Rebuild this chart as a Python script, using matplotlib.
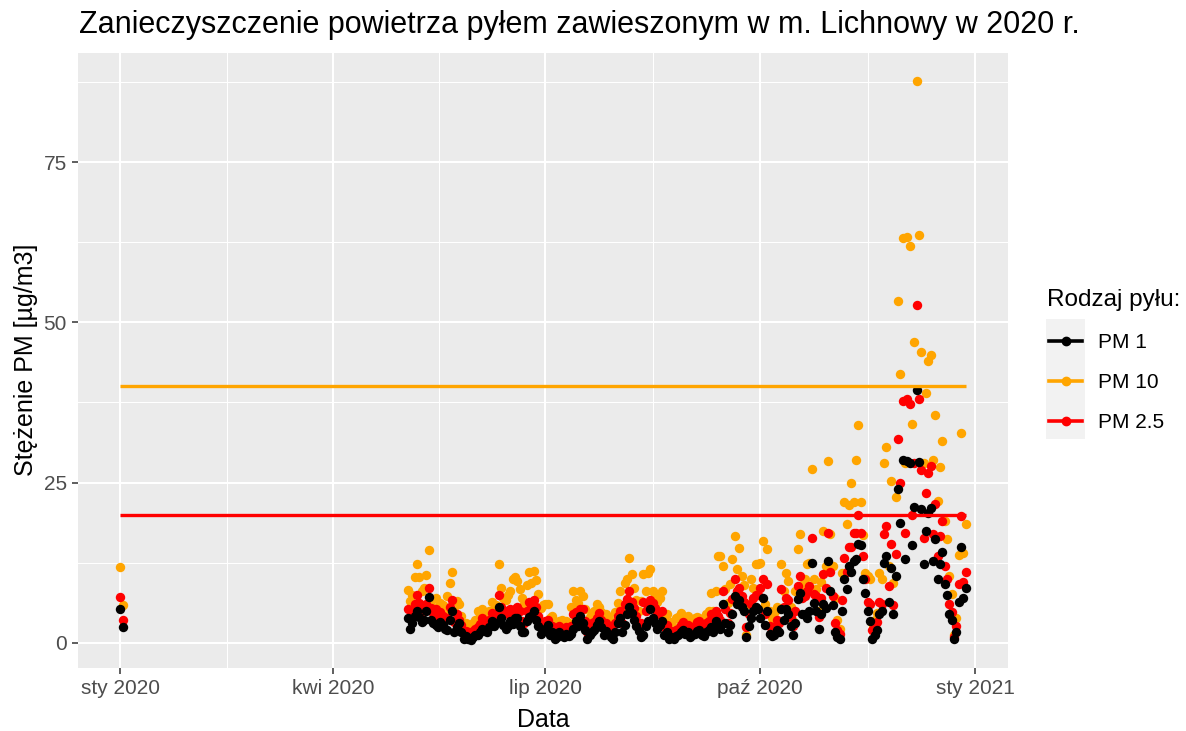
import matplotlib
matplotlib.use("Agg")
import numpy as np
import pandas as pd
from matplotlib import pyplot as plt
import matplotlib.dates as mdates
from matplotlib.patches import Rectangle
from matplotlib.lines import Line2D

plt.rcParams['font.family'] = ['Liberation Sans', 'DejaVu Sans']

# --- dane ---------------------------------------------------------------
jan_dates = ['2020-01-01', '2020-01-02']
jan_pm1 = [5.2, 2.4]
jan_pm25 = [7.1, 3.6]
jan_pm10 = [11.8, 5.8]

main_start = '2020-05-03'
pm1 = [
    3.8, 2.2, 3.0, 4.2, 4.9, 4.0, 3.2, 3.6, 4.9, 7.1,
    3.6, 3.0, 2.8, 2.4, 3.2, 2.8, 2.2, 2.0, 3.6, 4.9,
    1.7, 2.5, 3.0, 1.7, 0.6, 1.0, 0.5, 0.4, 0.9, 1.2,
    1.2, 1.6, 2.2, 1.8, 1.7, 2.4, 3.3, 2.6, 3.0, 5.5,
    3.8, 2.8, 2.2, 2.6, 3.3, 2.9, 3.8, 3.8, 2.6, 1.7,
    1.7, 3.3, 4.0, 4.2, 4.9, 3.6, 2.6, 1.4, 1.8, 2.2,
    2.8, 1.2, 1.6, 0.5, 0.8, 1.7, 1.2, 0.9, 1.4, 1.0,
    1.4, 2.2, 3.3, 2.6, 4.1, 3.0, 2.0, 0.6, 1.2, 1.6,
    2.0, 2.8, 3.3, 2.4, 1.2, 1.8, 1.4, 0.9, 0.6, 1.6,
    3.0, 3.8, 1.7, 2.8, 4.5, 5.6, 4.6, 3.6, 2.6, 1.8,
    0.9, 1.2, 2.6, 3.4, 5.2, 3.8, 3.0, 2.2, 2.8, 3.3,
    1.2, 1.7, 0.6, 0.9, 0.5, 1.0, 1.2, 1.6, 2.0, 1.4,
    1.6, 0.9, 1.2, 1.4, 1.8, 2.0, 1.2, 1.0, 1.7, 1.9,
    2.4, 1.7, 3.3, 2.6, 2.2, 6.1, 3.0, 1.7, 2.8, 4.4,
    7.2, 6.1, 6.7, 5.6, 4.9, 0.9, 2.6, 3.8, 5.0, 5.6,
    5.3, 3.8, 6.9, 2.8, 5.0, 1.4, 1.0, 1.2, 2.0, 1.6,
    5.3, 3.6, 5.2, 4.5, 2.6, 1.2, 3.0, 6.8, 7.7, 4.4,
    4.4, 3.8, 5.0, 12.4, 6.2, 5.0, 2.2, 4.4, 6.0, 5.4,
    12.7, 8.0, 5.8, 1.7, 0.9, 0.5, 4.9, 10.0, 8.3, 12.0,
    11.1, 12.7, 13.0, 15.4, 15.2, 9.9, 7.7, 4.9, 3.3, 0.6,
    1.2, 2.0, 4.4, 4.9, 12.4, 13.5, 6.4, 11.6, 4.4, 10.4,
    24.0, 18.7, 28.5, 13.1, 28.4, 28.0, 15.2, 21.2, 39.5, 28.2,
    20.8, 12.3, 17.5, 20.3, 21.0, 12.7, 16.2, 9.9, 12.3, 14.1,
    9.1, 7.5, 4.5, 3.6, 0.5, 1.7, 6.4, 15.0, 6.9, 8.5,
]
pm25 = [
    5.2, 4.0, 5.0, 6.0, 7.5, 6.2, 5.0, 5.4, 6.1, 8.5,
    5.4, 4.6, 5.3, 4.0, 4.8, 4.2, 3.6, 3.8, 5.6, 6.7,
    3.2, 4.4, 3.6, 2.8, 1.5, 1.8, 1.7, 1.2, 1.8, 2.2,
    2.4, 2.9, 3.8, 3.0, 2.8, 3.5, 4.6, 4.0, 4.4, 7.5,
    5.6, 4.6, 4.9, 4.4, 5.3, 5.0, 5.3, 5.6, 4.9, 3.4,
    3.0, 5.0, 6.4, 5.8, 6.7, 5.5, 4.2, 2.8, 3.0, 3.4,
    3.6, 2.4, 2.6, 1.4, 1.8, 2.6, 2.2, 1.7, 2.4, 2.0,
    2.6, 4.4, 4.8, 4.0, 5.2, 5.2, 3.4, 1.6, 2.4, 3.0,
    3.2, 3.8, 4.6, 3.6, 2.4, 3.0, 2.6, 2.0, 1.6, 3.0,
    4.2, 4.9, 3.0, 6.1, 6.8, 8.0, 6.4, 5.4, 4.2, 3.0,
    3.0, 6.4, 5.0, 5.6, 6.6, 6.2, 5.4, 4.4, 4.8, 4.9,
    2.4, 2.8, 1.5, 1.8, 1.2, 2.0, 2.2, 2.8, 3.2, 2.4,
    2.8, 2.0, 2.4, 2.6, 3.2, 3.4, 2.4, 2.2, 3.0, 3.4,
    4.4, 3.0, 5.0, 4.2, 3.6, 8.0, 5.2, 3.0, 4.6, 6.8,
    9.9, 8.0, 8.6, 7.2, 6.4, 2.5, 4.4, 6.0, 7.0, 7.5,
    7.5, 8.5, 9.9, 4.4, 9.1, 2.6, 2.0, 2.4, 3.6, 3.0,
    8.3, 5.6, 7.0, 6.7, 4.0, 2.6, 5.0, 8.8, 10.4, 7.0,
    7.2, 8.0, 8.8, 16.3, 7.6, 7.2, 4.0, 7.0, 10.7, 8.6,
    17.1, 11.0, 7.2, 3.0, 2.0, 1.4, 6.7, 13.2, 11.0, 15.0,
    15.0, 17.1, 17.1, 20.0, 17.1, 13.5, 10.0, 6.3, 6.0, 2.0,
    2.4, 3.2, 6.3, 6.0, 17.0, 18.2, 8.8, 15.4, 5.8, 13.8,
    31.8, 25.0, 37.8, 17.1, 38.1, 37.2, 20.0, 28.0, 52.7, 38.1,
    27.0, 16.4, 23.4, 26.5, 27.5, 17.0, 21.6, 13.5, 16.6, 19.0,
    12.0, 9.9, 6.1, 4.8, 0.9, 2.6, 9.1, 19.8, 9.4, 11.1,
]
pm10 = [
    8.2, 6.5, 7.5, 10.3, 12.3, 10.2, 8.0, 8.5, 10.5, 14.4,
    5.6, 6.8, 7.0, 5.5, 6.2, 5.8, 4.8, 7.2, 9.3, 11.1,
    5.0, 6.5, 6.0, 4.2, 2.6, 3.0, 2.2, 2.0, 3.0, 3.6,
    5.0, 4.2, 5.2, 4.0, 3.8, 5.0, 6.4, 5.2, 5.8, 12.2,
    8.5, 7.0, 6.6, 7.4, 8.0, 10.0, 10.2, 9.6, 8.3, 7.0,
    6.0, 9.0, 11.0, 9.3, 11.2, 9.8, 7.6, 5.4, 5.8, 6.0,
    6.0, 3.8, 4.2, 2.6, 3.0, 3.3, 3.6, 2.8, 3.4, 3.0,
    5.6, 8.0, 6.7, 6.2, 8.0, 7.2, 5.2, 3.0, 4.0, 4.6,
    5.0, 6.0, 5.6, 4.8, 3.6, 4.4, 4.0, 3.4, 3.0, 4.8,
    6.2, 8.0, 5.2, 9.3, 10.0, 13.2, 10.7, 8.6, 6.6, 5.0,
    6.5, 10.7, 8.0, 10.8, 11.5, 8.0, 7.4, 6.4, 7.0, 8.0,
    4.0, 4.4, 2.8, 3.2, 2.4, 3.8, 4.0, 4.6, 4.2, 3.6,
    4.2, 3.0, 3.6, 3.8, 4.0, 3.8, 3.2, 3.0, 4.4, 5.0,
    7.7, 5.0, 8.0, 13.5, 13.5, 12.0, 8.4, 6.2, 9.1, 13.0,
    16.6, 11.5, 14.8, 10.4, 9.0, 1.2, 6.0, 10.0, 8.6, 12.2,
    12.2, 12.4, 15.8, 6.0, 14.6, 5.0, 3.8, 4.6, 5.6, 5.2,
    12.2, 8.0, 10.8, 9.6, 5.6, 3.3, 8.0, 14.6, 17.0, 9.0,
    10.0, 12.2, 12.4, 27.1, 10.0, 8.3, 5.0, 9.4, 17.4, 12.0,
    28.4, 17.0, 12.0, 6.9, 3.6, 2.2, 10.8, 22.0, 18.5, 21.5,
    25.0, 22.0, 28.5, 34.0, 22.0, 16.8, 10.8, 10.4, 9.9, 3.0,
    3.6, 4.6, 10.8, 9.9, 28.0, 30.5, 12.0, 25.3, 9.3, 22.8,
    53.3, 41.9, 63.1, 28.0, 63.4, 62.0, 34.2, 47.0, 87.7, 63.6,
    45.3, 28.0, 38.9, 44.0, 44.9, 28.5, 35.6, 22.1, 27.4, 31.5,
    19.0, 16.2, 10.4, 7.6, 1.2, 3.8, 13.7, 32.8, 14.0, 18.5,
]

series_names = ['PM 1', 'PM 10', 'PM 2.5']
series_colors = {'PM 1': 'black', 'PM 10': '#FFA500', 'PM 2.5': '#FF0000'}
limit_values = {'PM 10': 40, 'PM 2.5': 20}

tick_dates = ['2020-01-01', '2020-04-01', '2020-07-01', '2020-10-01', '2021-01-01']
tick_labels = ['sty 2020', 'kwi 2020', 'lip 2020', 'paź 2020', 'sty 2021']
y_ticks = [0, 25, 50, 75]

# --- przygotowanie -------------------------------------------------------
main_dates = pd.date_range(main_start, periods=len(pm1), freq='D')
dates = pd.to_datetime(jan_dates).append(main_dates)
values = {
    'PM 1': jan_pm1 + pm1,
    'PM 10': jan_pm10 + pm10,
    'PM 2.5': jan_pm25 + pm25,
}
xnum = mdates.date2num(dates)

W, H = 1186, 731
fig = plt.figure(figsize=(W / 100, H / 100), dpi=100)


def fx(px):
    return px / W


def fy(py):
    return 1 - py / H


ax = fig.add_axes([fx(78), fy(668), fx(1008) - fx(78), fy(53) - fy(668)])
ax.set_facecolor('#EBEBEB')
for s in ax.spines.values():
    s.set_visible(False)

# punkty: PM10, PM2.5, PM1 na wierzchu
for name, z in [('PM 10', 3), ('PM 2.5', 4), ('PM 1', 5)]:
    ax.scatter(xnum, values[name], s=46, color=series_colors[name],
               linewidths=0, zorder=z)

# normy
for name, lim in limit_values.items():
    ax.plot([xnum[0], xnum[-1]], [lim, lim], color=series_colors[name],
            lw=2.4, zorder=6, solid_capstyle='butt')

# osie
span = xnum[-1] - xnum[0]
ax.set_xlim(xnum[0] - 0.05 * span, xnum[-1] + 0.05 * span)
all_vals = np.concatenate([np.array(v) for v in values.values()])
vr = all_vals.max() - all_vals.min()
ax.set_ylim(all_vals.min() - 0.05 * vr, all_vals.max() + 0.05 * vr)

xt = mdates.date2num(pd.to_datetime(tick_dates))
ax.set_xticks(xt)
ax.set_xticklabels(tick_labels)
ax.set_xticks((xt[:-1] + xt[1:]) / 2, minor=True)
ax.set_yticks(y_ticks)
ax.set_yticks([12.5, 37.5, 62.5, 87.5], minor=True)

ax.grid(which='major', color='white', lw=1.5)
ax.grid(which='minor', color='white', lw=0.75)
ax.set_axisbelow(True)
ax.tick_params(which='major', length=4.5, width=1.1, color='#333333',
               labelcolor='#4D4D4D', labelsize=15, pad=3.5)
ax.tick_params(which='minor', length=0)

fig.text(fx(543), fy(727), 'Data', fontsize=18, ha='center', va='baseline')
fig.text(fx(26), fy(360), 'Stężenie PM [µg/m3]', fontsize=18, rotation=90,
         ha='center', va='center')
fig.text(fx(79), fy(33), 'Zanieczyszczenie powietrza pyłem zawieszonym w m. Lichnowy w 2020 r.',
         fontsize=22, ha='left', va='baseline')

# legenda
fig.text(fx(1047), fy(306), 'Rodzaj pyłu:', fontsize=17.5, ha='left', va='baseline')
fig.patches.append(Rectangle((fx(1046), fy(439)), fx(39), fy(319) - fy(439),
                             transform=fig.transFigure, facecolor='#F2F2F2',
                             edgecolor='none'))
for i, name in enumerate(series_names):
    yp = 341 + 40 * i
    yc = fy(yp)
    fig.lines.append(Line2D([fx(1049), fx(1082)], [yc, yc], color=series_colors[name],
                            lw=2.6, transform=fig.transFigure))
    fig.lines.append(Line2D([fx(1065.5)], [yc], color=series_colors[name], lw=0,
                            marker='o', markersize=6, transform=fig.transFigure))
    fig.text(fx(1098), fy(yp + 7.5), name, fontsize=15, ha='left', va='baseline')

fig.savefig('out.png', dpi=100)
